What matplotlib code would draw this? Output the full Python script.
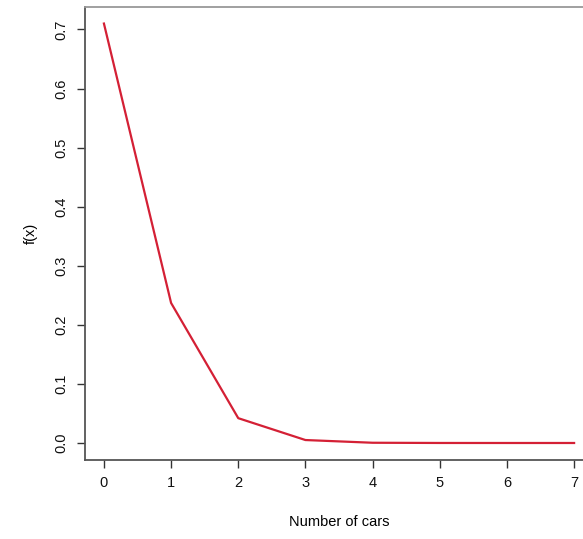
import matplotlib
matplotlib.use("Agg")
import matplotlib.pyplot as plt

# Number of cars and the probability
cars = [0, 1, 2, 3, 4, 5, 6, 7]
fx = [0.71, 0.237, 0.042, 0.005, 0.0004, 0.00003, 0.0, 0.0]

x_ticks = [0, 1, 2, 3, 4, 5, 6, 7]
y_ticks = [0.0, 0.1, 0.2, 0.3, 0.4, 0.5, 0.6, 0.7]

plt.rcParams['font.family'] = ['Liberation Sans', 'DejaVu Sans']

fig = plt.figure(figsize=(5.83, 5.39), dpi=100)
ax = fig.add_axes([0.146, 0.147, 0.871, 0.840])

ax.plot(cars, fx, color='#d42035', linewidth=1.6)

ax.set_xlim(-0.28, 7.28)
ax.set_ylim(-0.0284, 0.738)
ax.set_xticks(x_ticks)
ax.set_xticklabels([str(t) for t in x_ticks])
ax.set_yticks(y_ticks)
ax.set_yticklabels([f"{t:.1f}" for t in y_ticks], rotation=90, va='center')

for side in ['left', 'bottom', 'top']:
    ax.spines[side].set_color('#555555')
    ax.spines[side].set_linewidth(1.3)
ax.spines['top'].set_color('#999999')
ax.spines['right'].set_visible(False)  # cropped off in the original

ax.tick_params(axis='both', colors='#333333', labelsize=10.5, length=6, width=1.0, pad=6)
ax.tick_params(axis='x', labelcolor='#111111')
ax.tick_params(axis='y', labelcolor='#111111')

ax.set_xlabel('Number of cars', fontsize=10.5, labelpad=18)
ax.set_ylabel('f(x)', fontsize=10.5, labelpad=12)

fig.savefig('out.png', dpi=100)
